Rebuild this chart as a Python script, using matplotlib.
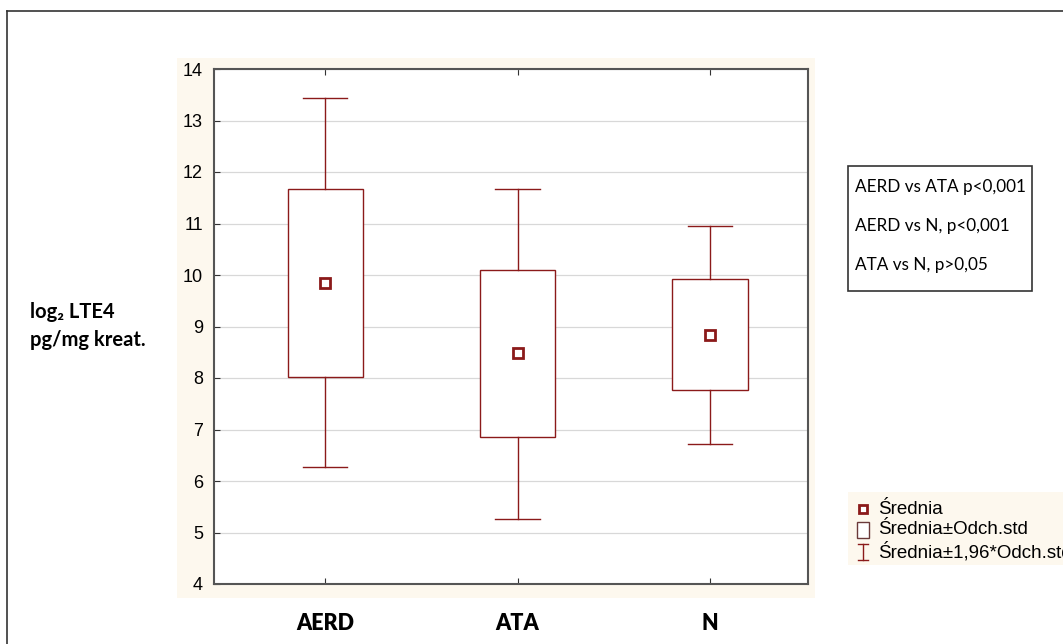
import matplotlib
matplotlib.use("Agg")
import matplotlib.pyplot as plt
from matplotlib.patches import Rectangle
from matplotlib.lines import Line2D

# dane
grupy = ["AERD", "ATA", "N"]
srednia = [9.84, 8.49, 8.83]
sd_gora = [11.67, 10.10, 9.92]
sd_dol = [8.01, 6.86, 7.76]
ci_gora = [13.43, 11.67, 10.96]
ci_dol = [6.27, 5.26, 6.72]
porownania = ["AERD vs ATA p<0,001", "AERD vs N, p<0,001", "ATA vs N, p>0,05"]
legenda = ["Średnia", "Średnia±Odch.std", "Średnia±1,96*Odch.std"]

W, H = 1063, 644
kolor = "#8b1a1a"
krem = "#fdf8ee"

def fx(px):
    return px / W

def fy(py):
    return 1 - py / H

fig = plt.figure(figsize=(W / 100, H / 100), dpi=100)
fig.patch.set_facecolor("white")

# ramka zewnetrzna
fig.add_artist(Line2D([fx(7), fx(7)], [fy(11), fy(660)], color="#333333", lw=1.2))
fig.add_artist(Line2D([fx(7), fx(1070)], [fy(11), fy(11)], color="#333333", lw=1.2))

# kremowe tlo pod wykresem
fig.add_artist(Rectangle((fx(177), fy(598)), fx(815 - 177), (598 - 58) / H,
                         facecolor=krem, edgecolor="none", zorder=0))

ax = fig.add_axes([fx(214), fy(584), fx(808 - 214), (584 - 69) / H])
ax.set_facecolor("white")
pos = [1, 2, 3]
szer = 0.39
cap = 0.23
for x, m, sg, sdl, cg, cd in zip(pos, srednia, sd_gora, sd_dol, ci_gora, ci_dol):
    ax.add_patch(Rectangle((x - szer / 2, sdl), szer, sg - sdl, facecolor="white",
                           edgecolor=kolor, lw=1.0, zorder=3))
    ax.plot([x, x], [sg, cg], color=kolor, lw=1.0, zorder=3)
    ax.plot([x, x], [cd, sdl], color=kolor, lw=1.0, zorder=3)
    ax.plot([x - cap / 2, x + cap / 2], [cg, cg], color=kolor, lw=1.0, zorder=3)
    ax.plot([x - cap / 2, x + cap / 2], [cd, cd], color=kolor, lw=1.0, zorder=3)
    ax.plot([x], [m], marker="s", ms=7, mfc="white", mec=kolor, mew=2, zorder=4)

ax.set_xlim(0.423, 3.509)
ax.set_ylim(4, 14)
ax.set_yticks(range(4, 15))
ax.yaxis.grid(True, color="#d8d8d8", lw=0.9)
ax.set_axisbelow(True)
ax.set_xticks(pos)
ax.set_xticklabels(grupy, fontfamily="Lato", fontweight="heavy", fontsize=15.5)
ax.tick_params(axis="x", direction="in", top=True, length=4, pad=21, color="#333333")
ax.tick_params(axis="y", direction="in", length=4, pad=8, labelsize=13, color="#333333")
for t in ax.get_yticklabels():
    t.set_fontfamily("Liberation Sans")
for s in ax.spines.values():
    s.set_color("#555555")
    s.set_linewidth(1.5)

# opis osi y
fig.text(fx(30), fy(312), "log₂ LTE4", fontsize=14.5, fontweight="bold",
         family=["Lato", "DejaVu Sans"], va="center", ha="left")
fig.text(fx(30), fy(340), "pg/mg kreat.", fontsize=14.5, fontweight="bold",
         family=["Lato", "DejaVu Sans"], va="center", ha="left")

# ramka z porownaniami
fig.add_artist(Rectangle((fx(848), fy(291)), fx(1032 - 848), (291 - 166) / H,
                         facecolor="white", edgecolor="#333333", lw=1.2))
for i, t in enumerate(porownania):
    fig.text(fx(855), fy(187 + i * 39), t, fontsize=12.3, family="Lato",
             va="center", ha="left")

# legenda
fig.add_artist(Rectangle((fx(848), fy(565)), fx(1063 - 848), (565 - 492) / H,
                         facecolor=krem, edgecolor="none"))
ly = [509, 530, 552]
fig.add_artist(Line2D([fx(863)], [fy(ly[0])], marker="s", ms=6, mfc="white",
                      mec=kolor, mew=2))
fig.add_artist(Rectangle((fx(857), fy(ly[1] + 8)), fx(12), 16 / H,
                         facecolor="white", edgecolor="#6b3a3a", lw=1.0))
fig.add_artist(Line2D([fx(863), fx(863)], [fy(ly[2] - 8), fy(ly[2] + 8)], color=kolor, lw=1))
fig.add_artist(Line2D([fx(858), fx(868)], [fy(ly[2] - 8), fy(ly[2] - 8)], color=kolor, lw=1))
fig.add_artist(Line2D([fx(858), fx(868)], [fy(ly[2] + 8), fy(ly[2] + 8)], color=kolor, lw=1))
for y, t in zip(ly, legenda):
    fig.text(fx(878), fy(y), t, fontsize=13.5, family="Liberation Sans",
             va="center", ha="left")

fig.savefig("out.png", dpi=100)
